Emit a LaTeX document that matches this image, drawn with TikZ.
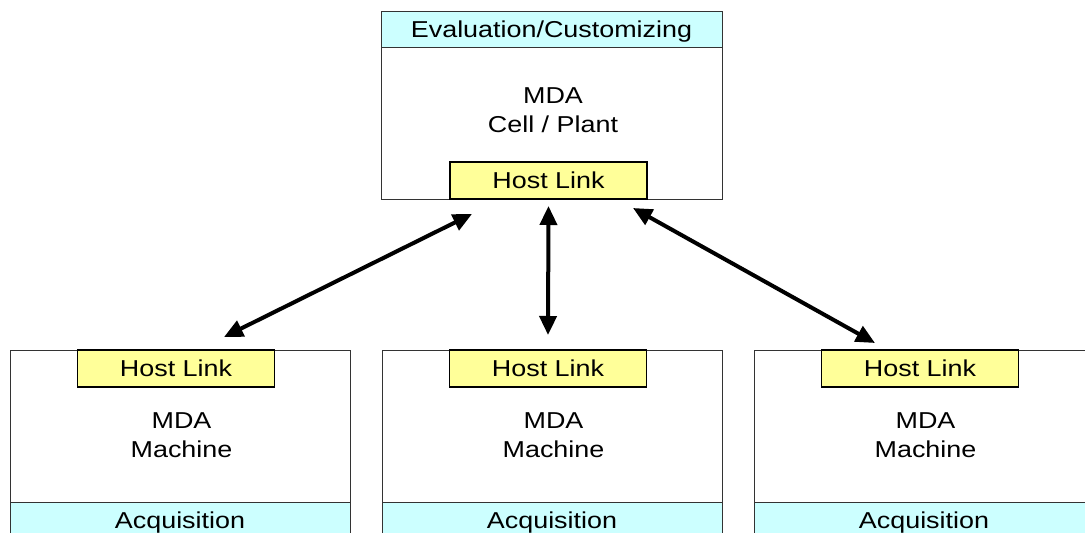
\documentclass[tikz,border=0pt]{standalone}
\usepackage{fontspec}
\setmainfont[FakeStretch=1.17]{Liberation Sans}
\usetikzlibrary{arrows.meta,calc}
\definecolor{bandcyan}{HTML}{CCFFFF}
\definecolor{linkyellow}{HTML}{FFFF99}

\begin{document}
\begin{tikzpicture}[x=1pt,y=-1pt,
  txt/.style={font=\fontsize{23}{29}\selectfont},
  frame/.style={draw=black!80, line width=0.9pt, fill=white, inner sep=0pt, outer sep=0pt, anchor=north west},
  band/.style={frame, fill=bandcyan, txt, minimum height=36pt, text height=16.5pt, text depth=0pt},
  hostlink/.style={draw=black, line width=1.5pt, fill=linkyellow, inner sep=0pt, outer sep=0pt,
    anchor=north west, txt, minimum width=197pt, minimum height=37pt, text height=16.5pt, text depth=0pt},
  caption/.style={txt, align=center, inner sep=0pt},
  link arrow/.style={line width=4pt, {Triangle[length=19pt,width=17pt]}-{Triangle[length=19pt,width=17pt]}}
]
\useasboundingbox (0,0) rectangle (1085,533);
\clip (0,0) rectangle (1085,533);

% Cell / plant level
\node[frame, minimum width=341pt, minimum height=188pt] (cell) at (381,11) {};
\node[band, minimum width=341pt] (eval) at (381,11) {Evaluation/Customizing};
\node[hostlink] (hlcell) at (450,162) {Host Link};
\node[caption] (celltxt) at (553,110) {MDA\\Cell / Plant};

% Machine level
\foreach \name/\x in {left/10, mid/382, right/754} {
  \node[frame, minimum width=340pt, minimum height=200pt] (m\name) at (\x,350) {};
  \node[band, minimum width=340pt] (acq\name) at (\x,502) {Acquisition};
  \node[hostlink] (hl\name) at (\x+67.5,350) {Host Link};
  \node[caption] (txt\name) at (\x+171.5,435) {MDA\\Machine};
}

% Arrow end points
\coordinate (aL1) at ($(hlcell.south west)+(22,15)$);
\coordinate (aL2) at ($(hlleft.north)+(48,-13)$);
\coordinate (aC1) at ($(hlcell.south)+(0,7)$);
\coordinate (aC2) at ($(hlmid.north)+(0,-15)$);
\coordinate (aR1) at ($(hlcell.south east)+(-14,9)$);
\coordinate (aR2) at ($(hlright.north)+(-45,-7)$);

\draw[link arrow] (aL1) -- (aL2);
\draw[link arrow] (aC1) -- (aC2);
\draw[link arrow] (aR1) -- (aR2);
\end{tikzpicture}
\end{document}
